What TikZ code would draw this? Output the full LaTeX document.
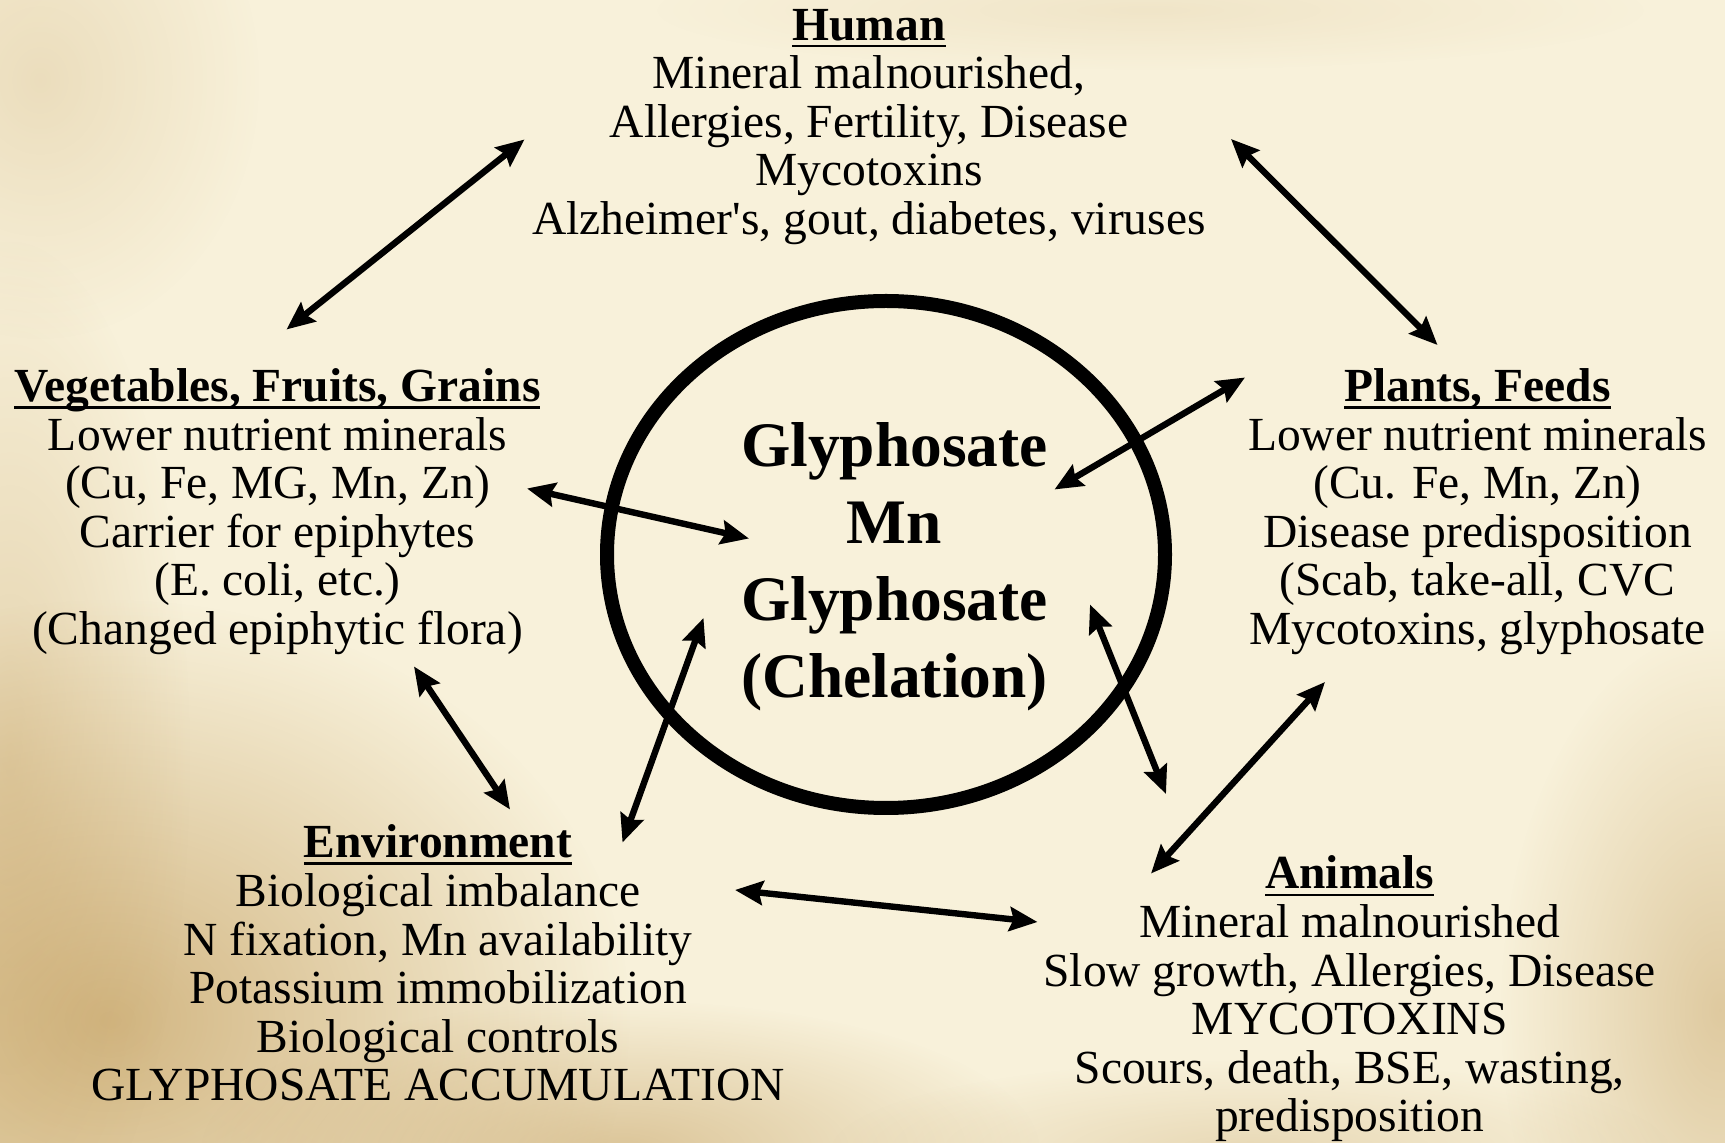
\documentclass[tikz,border=0pt]{standalone}
\usepackage{fontspec}
\setmainfont{Liberation Serif}[Ligatures=TeXOff]
\usepackage{xcolor}
\definecolor{ink}{HTML}{000000}
\definecolor{parch}{HTML}{F8F1DA}
\definecolor{parchmid}{HTML}{F0E1B4}
\definecolor{parchedge}{HTML}{DEC58A}
\definecolor{stain}{HTML}{B98F48}
\usepackage{tikz}
\usetikzlibrary{arrows.meta,fadings}
\pgfdeclareradialshading{parchment}{\pgfpointorigin}{color(0bp)=(parch); color(26bp)=(parch); color(50bp)=(parchmid); color(71bp)=(parchedge)}
\tikzfading[name=softspot, inner color=transparent!0, outer color=transparent!100]
\tikzset{
  every picture/.style={line width=0.6pt},
  body/.style={align=center, inner sep=0pt, anchor=north, text=ink, font=\fontsize{23.75}{24.3}\selectfont},
  core/.style={body, font=\fontsize{31.7}{38.35}\selectfont\bfseries},
  ring/.style={draw=ink, line width=7pt},
  dblarrow/.style={{Stealth[length=14pt,width=12pt,inset=2pt]}-{Stealth[length=14pt,width=12pt,inset=2pt]}, draw=ink, line width=3.2pt},
  blot/.style={fill=stain, opacity=#1, path fading=softspot},
  blot/.default=0.3,
}
\newsavebox\hdbox
\newcommand{\hd}[1]{\sbox\hdbox{\textbf{#1}}\rlap{\rule[-3.6pt]{\wd\hdbox}{1.3pt}}\usebox\hdbox}

\begin{document}
\begin{tikzpicture}[x=0.5pt, y=-0.5pt]
  \useasboundingbox (0,0) rectangle (1725,1143);
  \begin{scope}
    \clip (0,0) rectangle (1725,1143);
    \shade[shading=parchment] (-100,-300) rectangle (2200,1250);
    \fill[blot=0.6] (110,1020) ellipse [x radius=520, y radius=420];
    \fill[blot=0.45] (620,1150) ellipse [x radius=420, y radius=150];
    \fill[blot=0.3] (10,760) ellipse [x radius=180, y radius=520];
    \fill[blot=0.4] (1720,1010) ellipse [x radius=220, y radius=380];
    \fill[blot=0.25] (1250,1150) ellipse [x radius=420, y radius=90];
    \fill[blot=0.2] (40,80) ellipse [x radius=220, y radius=260];
    \fill[blot=0.12] (1150,10) ellipse [x radius=500, y radius=60];
  \end{scope}
  \draw[ring] (886,554.5) ellipse [x radius=279, y radius=253.5];
  \node[core] (chel) at (894.5,422.4) {Glyphosate\\Mn\\Glyphosate\\(Chelation)};
  \node[body] (hum) at (869,8.5) {\hd{Human}\\Mineral malnourished,\\Allergies, Fertility, Disease\\Mycotoxins\\Alzheimer's, gout, diabetes, viruses};
  \node[body] (veg) at (277.5,367.9) {\hd{Vegetables, Fruits, Grains}\\Lower nutrient minerals\\(Cu, Fe, MG, Mn, Zn)\\Carrier for epiphytes\\(E. coli, etc.)\\(Changed epiphytic flora)};
  \node[body] (pla) at (1477.5,367.9) {\hd{Plants, Feeds}\\Lower nutrient minerals\\(Cu. Fe, Mn, Zn)\\Disease predisposition\\(Scab, take-all, CVC\\Mycotoxins, glyphosate};
  \node[body] (env) at (438,824.3) {\hd{Environment}\\Biological imbalance\\N fixation, Mn availability\\Potassium immobilization\\Biological controls\\GLYPHOSATE ACCUMULATION};
  \node[body] (ani) at (1349.7,855.4) {\hd{Animals}\\Mineral malnourished\\Slow growth, Allergies, Disease\\MYCOTOXINS\\Scours, death, BSE, wasting,\\predisposition};
  \coordinate (hum-sw) at (524.5,139.5);
  \coordinate (veg-n) at (286.5,329.5);
  \coordinate (hum-se) at (1231,139);
  \coordinate (pla-n) at (1437.5,345);
  \coordinate (veg-e) at (527,488.5);
  \coordinate (chel-w) at (749,538.5);
  \coordinate (pla-w) at (1245,377.5);
  \coordinate (chel-ne) at (1054.5,489.5);
  \coordinate (veg-s) at (414,666.5);
  \coordinate (env-n) at (510,809.5);
  \coordinate (env-ne) at (622.5,842.5);
  \coordinate (chel-sw) at (703.5,618);
  \coordinate (chel-se) at (1090,604.5);
  \coordinate (ani-n) at (1166,794);
  \coordinate (pla-s) at (1325,682);
  \coordinate (ani-nw) at (1151,873.5);
  \coordinate (env-e) at (735,890);
  \coordinate (ani-w) at (1037.5,922);
  \draw[dblarrow] (hum-sw) -- (veg-n);
  \draw[dblarrow] (hum-se) -- (pla-n);
  \draw[dblarrow] (veg-e) -- (chel-w);
  \draw[dblarrow] (pla-w) -- (chel-ne);
  \draw[dblarrow] (veg-s) -- (env-n);
  \draw[dblarrow] (env-ne) -- (chel-sw);
  \draw[dblarrow] (chel-se) -- (ani-n);
  \draw[dblarrow] (pla-s) -- (ani-nw);
  \draw[dblarrow] (env-e) -- (ani-w);
\end{tikzpicture}
\end{document}
